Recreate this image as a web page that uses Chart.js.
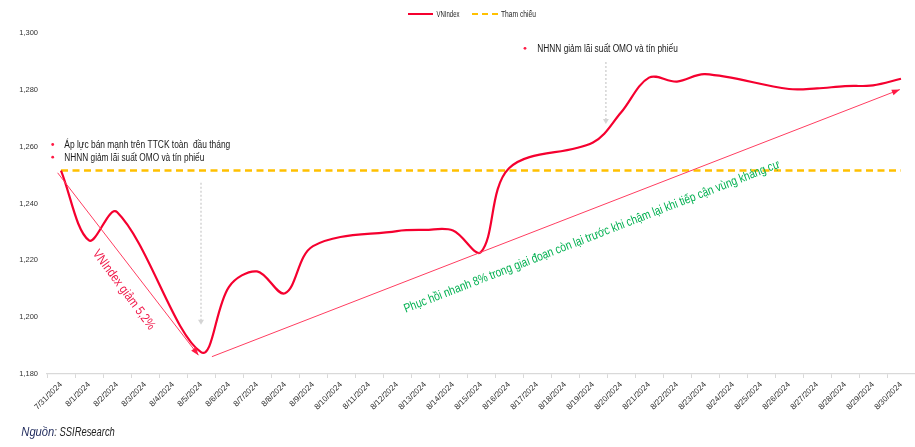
<!DOCTYPE html>
<html><head><meta charset="utf-8">
<script src="https://cdn.jsdelivr.net/npm/chart.js@4.4.1/dist/chart.umd.min.js"></script>
<style>html,body{margin:0;padding:0;background:#fff;overflow:hidden}#wrap{width:915px;height:447px;position:relative}</style>
</head><body><div id="wrap"><canvas id="c" width="915" height="447"></canvas></div>
<script>
const categories = ['7/31/2024','8/1/2024','8/2/2024','8/3/2024','8/4/2024','8/5/2024','8/6/2024','8/7/2024','8/8/2024','8/9/2024','8/10/2024','8/11/2024','8/12/2024','8/13/2024','8/14/2024','8/15/2024','8/16/2024','8/17/2024','8/18/2024','8/19/2024','8/20/2024','8/21/2024','8/22/2024','8/23/2024','8/24/2024','8/25/2024','8/26/2024','8/27/2024','8/28/2024','8/29/2024','8/30/2024'];
const vnIndex = [1251.6,1227.0,1237.0,null,null,1187.7,1210.7,1216.1,1208.4,1225.0,null,null,1230.3,1230.7,1230.5,1222.9,1252.4,null,null,1261.5,1272.0,1284.3,1282.9,1285.5,null,null,1280.3,1280.5,1281.3,1281.6,1283.9];
const thamChieu = [1251.6,1251.6,1251.6,1251.6,1251.6,1251.6,1251.6,1251.6,1251.6,1251.6,1251.6,1251.6,1251.6,1251.6,1251.6,1251.6,1251.6,1251.6,1251.6,1251.6,1251.6,1251.6,1251.6,1251.6,1251.6,1251.6,1251.6,1251.6,1251.6,1251.6,1251.6];
const yTicks = [1180,1200,1220,1240,1260,1280,1300];
const seriesNames = ['VNIndex','Tham chiếu'];
const noteLeft = ['Áp lực bán mạnh trên TTCK toàn  đầu tháng','NHNN giảm lãi suất OMO và tín phiếu'];
const noteRight = 'NHNN giảm lãi suất OMO và tín phiếu';
const fallText = 'VNIndex giảm 5,2%';
const riseText = 'Phục hồi nhanh 8% trong giai đoạn còn lại trước khi chậm lại khi tiếp cận vùng kháng cự';
const sourceLabel = 'Nguồn';
const sourceName = ': SSIResearch';

const NARROW = "'Liberation Sans Narrow','Arial Narrow','Liberation Sans',Arial,sans-serif";
const RED = '#f5002f';
const GOLD = '#ffc000';

function fitText(ctx, text, x, y, target, align) {
  const w = ctx.measureText(text).width;
  const s = target / w;
  ctx.save();
  ctx.translate(x, y);
  ctx.scale(s, 1);
  ctx.textAlign = align || 'left';
  ctx.fillText(text, 0, 0);
  ctx.restore();
}
function arrowHead(ctx, x1, y1, x2, y2, len, wid, color) {
  const a = Math.atan2(y2 - y1, x2 - x1);
  ctx.save();
  ctx.fillStyle = color;
  ctx.translate(x2, y2);
  ctx.rotate(a);
  ctx.beginPath();
  ctx.moveTo(0, 0);
  ctx.lineTo(-len, -wid / 2);
  ctx.lineTo(-len, wid / 2);
  ctx.closePath();
  ctx.fill();
  ctx.restore();
}

const annotations = {
  id: 'annotations',
  afterDatasetsDraw(chart) {
    const ctx = chart.ctx, xs = chart.scales.x, ys = chart.scales.y;
    const P = (i, v) => [xs.getPixelForValue(i), ys.getPixelForValue(v)];
    ctx.save();
    // gray dotted arrows
    ctx.strokeStyle = '#d4d4d4';
    ctx.lineWidth = 1.5;
    ctx.setLineDash([2, 2]);
    [[5, 1247.3, 1197.3], [19.46, 1289.8, 1268.0]].forEach(([i, v1, v2]) => {
      const [x, y1] = P(i, v1); const [, y2] = P(i, v2);
      ctx.beginPath(); ctx.moveTo(x, y1); ctx.lineTo(x, y2 - 4); ctx.stroke();
      arrowHead(ctx, x, y1, x, y2, 5, 6, '#d4d4d4');
    });
    ctx.setLineDash([]);
    // red thin arrows
    ctx.strokeStyle = '#ff3d60';
    ctx.lineWidth = 1;
    [[[-0.12, 1250.8], [4.91, 1186.6]], [[5.39, 1186.1], [29.96, 1280.1]]].forEach(([a, b]) => {
      const [x1, y1] = P(a[0], a[1]); const [x2, y2] = P(b[0], b[1]);
      ctx.beginPath(); ctx.moveTo(x1, y1); ctx.lineTo(x2, y2); ctx.stroke();
      arrowHead(ctx, x1, y1, x2, y2, 8, 6, '#ff1a44');
    });
    // rotated texts
    ctx.textBaseline = 'middle';
    ctx.fillStyle = '#f0194a';
    ctx.font = '13px ' + NARROW;
    let [cx, cy] = P(2.24, 1209.6);
    ctx.save(); ctx.translate(cx, cy); ctx.rotate(53.5 * Math.PI / 180);
    fitText(ctx, fallText, 0, 0, 96, 'center'); ctx.restore();
    ctx.fillStyle = '#00b050';
    ctx.font = '12.5px ' + NARROW;
    [cx, cy] = P(18.96, 1228.3);
    ctx.save(); ctx.translate(cx, cy); ctx.rotate(-21.2 * Math.PI / 180);
    fitText(ctx, riseText, 0, 0, 402, 'center'); ctx.restore();
    ctx.restore();
  },
  afterDraw(chart) {
    const ctx = chart.ctx;
    ctx.save();
    ctx.textBaseline = 'middle';
    // legend
    ctx.lineWidth = 2;
    ctx.strokeStyle = RED;
    ctx.beginPath(); ctx.moveTo(408, 14); ctx.lineTo(433, 14); ctx.stroke();
    ctx.strokeStyle = GOLD;
    ctx.setLineDash([6, 4]);
    ctx.beginPath(); ctx.moveTo(472, 14); ctx.lineTo(498, 14); ctx.stroke();
    ctx.setLineDash([]);
    ctx.fillStyle = '#262626';
    ctx.font = '9px ' + NARROW;
    fitText(ctx, seriesNames[0], 436.5, 14.5, 23);
    fitText(ctx, seriesNames[1], 501, 14.5, 35);
    // bullet notes
    ctx.fillStyle = '#ff1a44';
    [[52.7, 144.5], [52.7, 157.2], [525, 48.3]].forEach(([x, y]) => {
      ctx.beginPath(); ctx.arc(x, y, 1.4, 0, Math.PI * 2); ctx.fill();
    });
    ctx.fillStyle = '#1a1a1a';
    ctx.font = '10px ' + NARROW;
    fitText(ctx, noteLeft[0], 64.3, 145.3, 166);
    fitText(ctx, noteLeft[1], 64.3, 157.8, 140);
    fitText(ctx, noteRight, 537.3, 48.8, 140.5);
    // source
    ctx.font = 'italic 12px ' + NARROW;
    ctx.fillStyle = '#1f2a5c';
    const w1 = 33;
    fitText(ctx, sourceLabel, 21.3, 433, w1);
    ctx.fillStyle = '#222222';
    fitText(ctx, sourceName, 21.3 + w1, 433, 60.5);
    ctx.restore();
  }
};

new Chart(document.getElementById('c'), {
  type: 'line',
  data: {
    labels: categories,
    datasets: [
      { label: seriesNames[0], data: vnIndex, borderColor: RED, borderWidth: 2.2, pointRadius: 0, tension: 0.35, spanGaps: true, fill: false },
      { label: seriesNames[1], data: thamChieu, borderColor: GOLD, borderWidth: 2.4, borderDash: [7, 4.5], pointRadius: 0, tension: 0, spanGaps: true, fill: false }
    ]
  },
  options: {
    responsive: false,
    animation: false,
    devicePixelRatio: 1,
    layout: { padding: { top: 33, right: 0, left: 0, bottom: 0 } },
    plugins: { legend: { display: false }, tooltip: { enabled: false } },
    scales: {
      x: {
        type: 'category', offset: true,
        grid: { display: true, drawOnChartArea: false, drawTicks: true, tickLength: 4, color: '#d9d9d9', offset: true },
        border: { display: true, color: '#d9d9d9', width: 1.2 },
        ticks: { autoSkip: false, maxRotation: 45, minRotation: 45, padding: 2, color: '#333333', font: { family: NARROW, size: 8 } },
        afterFit: s => { s.height = 73; }
      },
      y: {
        min: 1180, max: 1300,
        afterBuildTicks: s => { s.ticks = yTicks.map(v => ({ value: v })); },
        grid: { display: false, drawTicks: false },
        border: { display: false },
        ticks: { padding: 9, color: '#333333', font: { family: NARROW, size: 7.5 }, callback: v => v.toLocaleString('en-US') },
        afterFit: s => { s.width = 47; }
      }
    }
  },
  plugins: [annotations]
});
</script></body></html>
